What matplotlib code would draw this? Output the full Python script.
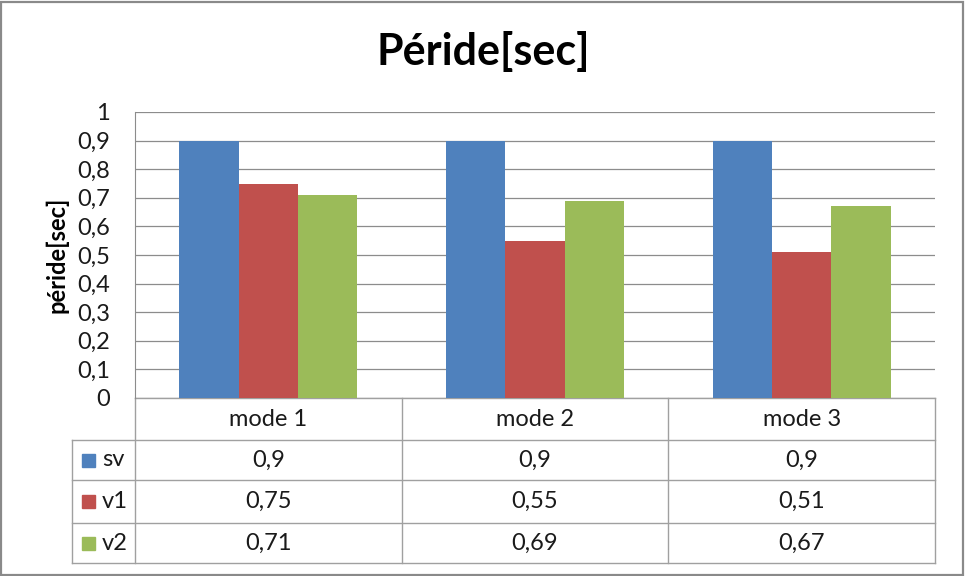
import matplotlib.pyplot as plt
import numpy as np
from matplotlib.patches import Rectangle

plt.rcParams['font.family'] = ['Lato', 'DejaVu Sans']

modes = ['mode 1', 'mode 2', 'mode 3']
series = ['sv', 'v1', 'v2']
sv = [0.9, 0.9, 0.9]
v1 = [0.75, 0.55, 0.51]
v2 = [0.71, 0.69, 0.67]
colors = ['#4F81BD', '#C0504D', '#9BBB59']
yticks = np.arange(0, 1.01, 0.1)

def fmt(v):
    return ('%g' % v).replace('.', ',')

W, H = 965, 576
fig = plt.figure(figsize=(W / 100, H / 100), dpi=100)
# outer frame
fig.patches.append(Rectangle((1 / W, 1 / H), 1 - 3 / W, 1 - 3 / H, transform=fig.transFigure,
                             fill=False, edgecolor='#8a8a8a', linewidth=1.6))

ax = fig.add_axes([135 / W, 1 - 398 / H, 800 / W, 286 / H])
x = np.arange(len(modes))
bw = 0.2222
for i, vals in enumerate([sv, v1, v2]):
    ax.bar(x + (i - 1) * bw, vals, bw, color=colors[i], zorder=3)

ax.set_xlim(-0.5, 2.5)
ax.set_ylim(0, 1)
ax.set_yticks(yticks)
ax.set_yticklabels([fmt(round(t, 1)) for t in yticks], fontsize=17, color='#1a1a1a')
ax.tick_params(axis='y', length=0, pad=18)
ax.set_xticks([])
ax.grid(axis='y', color='#8c8c8c', linewidth=0.9, zorder=0)
for s in ['top', 'right', 'bottom']:
    ax.spines[s].set_visible(False)
ax.spines['left'].set_color('#8c8c8c')

fig.text(483 / W, 1 - 52 / H, 'Péride[sec]', fontsize=31, fontweight='bold',
         ha='center', va='center')
fig.text(57 / W, 1 - 255 / H, 'péride[sec]', fontsize=17, fontweight='bold',
         rotation=90, ha='center', va='center')

# data table under the axis
lc = '#a0a0a0'
ph = 286.0
rows_y = [0, -42 / ph, -82 / ph, -125 / ph, -165 / ph]
left = -63 / 800
kw = dict(transform=ax.transAxes, color=lc, linewidth=1.0, clip_on=False)
ax.plot([0, 1], [0, 0], **kw)
for yy in rows_y[1:]:
    ax.plot([left, 1], [yy, yy], **kw)
for xx in [0, 1 / 3, 2 / 3, 1]:
    ax.plot([xx, xx], [0, rows_y[-1]], **kw)
ax.plot([left, left], [rows_y[1], rows_y[-1]], **kw)

for j, m in enumerate(modes):
    xc = (j + 0.5) / 3
    ax.text(xc, (rows_y[0] + rows_y[1]) / 2, m, transform=ax.transAxes,
            ha='center', va='center', fontsize=17, color='#1a1a1a')
    for i, vals in enumerate([sv, v1, v2]):
        ax.text(xc, (rows_y[i + 1] + rows_y[i + 2]) / 2, fmt(vals[j]), transform=ax.transAxes,
                ha='center', va='center', fontsize=17, color='#1a1a1a')

for i, s in enumerate(series):
    yc = (rows_y[i + 1] + rows_y[i + 2]) / 2
    ax.add_patch(Rectangle((-53 / 800, yc - 6.5 / ph), 13 / 800, 13 / ph, transform=ax.transAxes,
                           color=colors[i], clip_on=False))
    ax.text(-33 / 800, yc, s, transform=ax.transAxes, ha='left', va='center',
            fontsize=17, color='#1a1a1a')

fig.savefig('out.png', dpi=100)
